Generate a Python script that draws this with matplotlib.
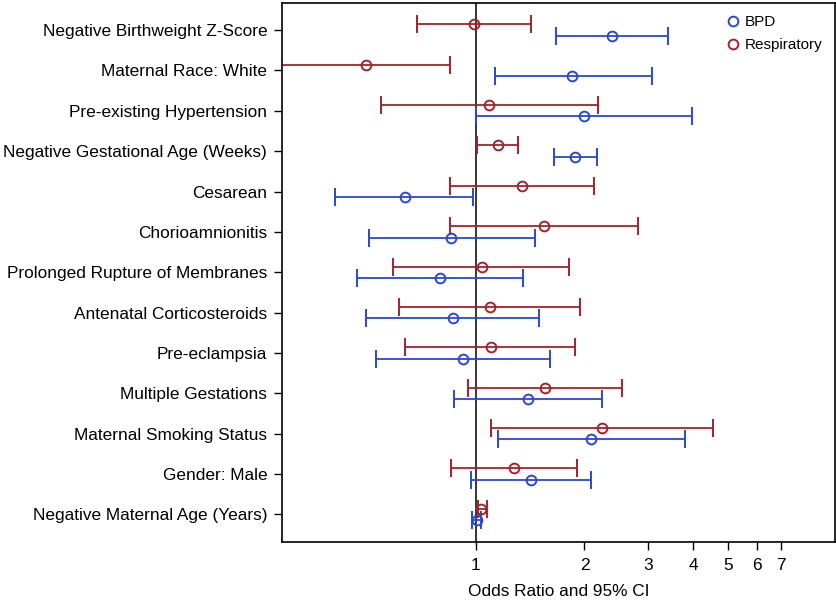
import matplotlib
matplotlib.use("Agg")
import matplotlib.pyplot as plt
from matplotlib.lines import Line2D
import numpy as np

plt.rcParams['font.family'] = ['Liberation Sans', 'DejaVu Sans']

labels = [
    "Negative Birthweight Z-Score",
    "Maternal Race: White",
    "Pre-existing Hypertension",
    "Negative Gestational Age (Weeks)",
    "Cesarean",
    "Chorioamnionitis",
    "Prolonged Rupture of Membranes",
    "Antenatal Corticosteroids",
    "Pre-eclampsia",
    "Multiple Gestations",
    "Maternal Smoking Status",
    "Gender: Male",
    "Negative Maternal Age (Years)",
]

# odds ratios and 95% CI
bpd_or = [2.39, 1.85, 1.99, 1.885, 0.637, 0.854, 0.793, 0.864, 0.920, 1.395, 2.09, 1.42, 1.006]
bpd_lo = [1.673, 1.13, 0.998, 1.65, 0.406, 0.507, 0.469, 0.495, 0.528, 0.871, 1.15, 0.969, 0.976]
bpd_hi = [3.40, 3.07, 3.97, 2.16, 0.983, 1.457, 1.35, 1.492, 1.607, 2.235, 3.80, 2.09, 1.036]

resp_or = [0.987, 0.495, 1.089, 1.15, 1.339, 1.543, 1.039, 1.091, 1.103, 1.555, 2.235, 1.273, 1.036]
resp_lo = [0.686, 0.27, 0.545, 1.008, 0.847, 0.847, 0.589, 0.613, 0.636, 0.954, 1.10, 0.852, 1.012]
resp_hi = [1.42, 0.847, 2.18, 1.305, 2.12, 2.81, 1.81, 1.94, 1.885, 2.54, 4.54, 1.905, 1.073]

blue = "#2b47d0"
red = "#a3232b"

fig = plt.figure(figsize=(8.37, 6.02), dpi=100)
ax = fig.add_axes([0.3375, 0.0992, 0.6601, 0.8958])

y = np.arange(len(labels))
bpd_or = np.array(bpd_or)
resp_or = np.array(resp_or)

ax.axvline(1, color="black", lw=1.1, zorder=1)

ax.errorbar(bpd_or, y + 0.14,
            xerr=[bpd_or - np.array(bpd_lo), np.array(bpd_hi) - bpd_or],
            fmt="o", mfc="none", mec=blue, ms=7, mew=1.4, color=blue,
            ecolor=blue, elinewidth=1.3, capsize=6.5, capthick=1.3)
ax.errorbar(resp_or, y - 0.14,
            xerr=[resp_or - np.array(resp_lo), np.array(resp_hi) - resp_or],
            fmt="o", mfc="none", mec=red, ms=7, mew=1.4, color=red,
            ecolor=red, elinewidth=1.3, capsize=6.5, capthick=1.3)

ax.set_xscale("log")
ax.set_xlim(0.291, 9.9)
ax.set_ylim(len(labels) - 1 + 0.69, -0.67)
ax.set_xticks([1, 2, 3, 4, 5, 6, 7])
ax.set_xticklabels(["1", "2", "3", "4", "5", "6", "7"])
ax.xaxis.set_minor_locator(matplotlib.ticker.NullLocator())
ax.set_yticks(y)
ax.set_yticklabels(labels)
ax.tick_params(axis="both", labelsize=12.4, length=6, width=1, direction="out", pad=5)
ax.set_xlabel("Odds Ratio and 95% CI", fontsize=12.4, labelpad=8)
for s in ax.spines.values():
    s.set_linewidth(1.2)

handles = [
    Line2D([], [], ls="none", marker="o", mfc="none", mec=blue, ms=7, mew=1.4),
    Line2D([], [], ls="none", marker="o", mfc="none", mec=red, ms=7, mew=1.4),
]
ax.legend(handles, ["BPD", "Respiratory"], loc="upper right", frameon=False,
          fontsize=11, handletextpad=0.3, handlelength=1.0,
          borderaxespad=0.4, labelspacing=0.6)

fig.savefig("out.png", dpi=100)
